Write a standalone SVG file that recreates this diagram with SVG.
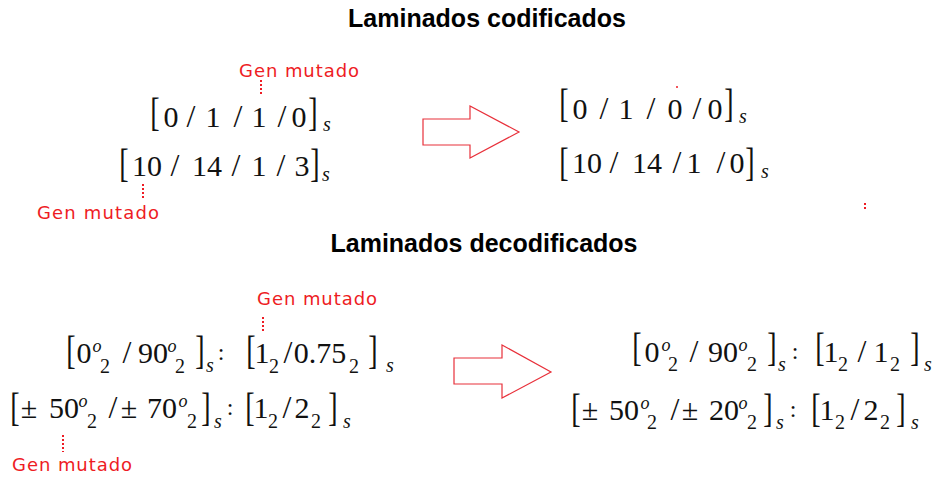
<svg xmlns="http://www.w3.org/2000/svg" width="940" height="477" viewBox="0 0 940 477">
<style>
text{font-family:"Liberation Serif","Times New Roman",serif;fill:#111;text-anchor:middle}
.m{font-size:30px}
.br{font-size:28px}
.sl{font-size:32px}
.s{font-size:20px;font-style:italic}
.o{font-size:18px;font-style:italic}
.u{font-size:20px}
.c{font-size:24px}
.t{font-family:"Liberation Sans",Arial,sans-serif;font-weight:bold;font-size:25px;fill:#000}
.g{font-family:"DejaVu Sans","Noto Sans",sans-serif;font-size:18px;fill:#ee1c24;text-anchor:start}
.d{stroke:#ee1c24;stroke-width:2;stroke-dasharray:2 2;fill:none}
.ar{fill:#fff;stroke:#e8303a;stroke-width:1.2}
</style>
<rect width="940" height="477" fill="#fff"/>
<g id="titles">
<text class="t" x="487" y="27">Laminados codificados</text>
<text class="t" x="484" y="252">Laminados decodificados</text>
</g>
<g id="coded-before">
<text class="br" transform="translate(155,126) scale(1,1.45)">[</text>
<text class="br" transform="translate(313,126) scale(1,1.45)">]</text>
<text class="m"><tspan x="171" y="127">0</tspan><tspan class="sl" x="191" y="127">/</tspan><tspan x="213" y="127">1</tspan><tspan class="sl" x="238" y="127">/</tspan><tspan x="259" y="127">1</tspan><tspan class="sl" x="282" y="127">/</tspan><tspan x="299" y="127">0</tspan><tspan class="s" x="327" y="131">s</tspan></text>
<text class="br" transform="translate(124,177) scale(1,1.45)">[</text>
<text class="br" transform="translate(315,177) scale(1,1.45)">]</text>
<text class="m"><tspan x="147" y="176">10</tspan><tspan class="sl" x="175" y="176">/</tspan><tspan x="207" y="176">14</tspan><tspan class="sl" x="236" y="176">/</tspan><tspan x="259" y="176">1</tspan><tspan class="sl" x="281" y="176">/</tspan><tspan x="302" y="176">3</tspan><tspan class="s" x="326" y="181">s</tspan></text>
</g>
<g id="coded-after">
<text class="br" transform="translate(564,117) scale(1,1.45)">[</text>
<text class="br" transform="translate(729,117) scale(1,1.45)">]</text>
<text class="m"><tspan x="580" y="119">0</tspan><tspan class="sl" x="604" y="119">/</tspan><tspan x="626" y="119">1</tspan><tspan class="sl" x="651" y="119">/</tspan><tspan x="675" y="119">0</tspan><tspan class="sl" x="697" y="119">/</tspan><tspan x="715" y="119">0</tspan><tspan class="s" x="743" y="123">s</tspan></text>
<circle cx="677" cy="87" r="1" fill="#ee1c24"/>
<text class="br" transform="translate(564,176) scale(1,1.45)">[</text>
<text class="br" transform="translate(750,176) scale(1,1.45)">]</text>
<text class="m"><tspan x="587" y="173">10</tspan><tspan class="sl" x="614" y="173">/</tspan><tspan x="647" y="173">14</tspan><tspan class="sl" x="677" y="173">/</tspan><tspan x="694" y="173">1</tspan><tspan class="sl" x="721" y="173">/</tspan><tspan x="737" y="173">0</tspan><tspan class="s" x="765" y="178">s</tspan></text>
<line class="d" x1="865" y1="203" x2="865" y2="211"/>
</g>
<g id="decoded-before">
<text class="br" transform="translate(71,364) scale(1,1.45)">[</text>
<text class="br" transform="translate(200,364) scale(1,1.45)">]</text>
<text class="br" transform="translate(251,364) scale(1,1.45)">[</text>
<text class="br" transform="translate(373,364) scale(1,1.45)">]</text>
<text class="m"><tspan x="84" y="363">0</tspan><tspan class="o" x="97" y="352">o</tspan><tspan class="u" x="105" y="373">2</tspan><tspan class="sl" x="127" y="363">/</tspan><tspan x="153" y="363">90</tspan><tspan class="o" x="172" y="352">o</tspan><tspan class="u" x="180" y="373">2</tspan><tspan class="s" x="210" y="372">s</tspan><tspan class="c" x="221" y="360">:</tspan><tspan x="262" y="363">1</tspan><tspan class="u" x="274" y="373">2</tspan><tspan class="sl" x="288" y="363">/</tspan><tspan x="320" y="363">0.75</tspan><tspan class="u" x="354" y="373">2</tspan><tspan class="s" x="390" y="372">s</tspan></text>
<text class="br" transform="translate(15,421) scale(1,1.45)">[</text>
<text class="br" transform="translate(206,421) scale(1,1.45)">]</text>
<text class="br" transform="translate(250,421) scale(1,1.45)">[</text>
<text class="br" transform="translate(333,421) scale(1,1.45)">]</text>
<text class="m"><tspan x="29" y="418">±</tspan><tspan x="64" y="418">50</tspan><tspan class="o" x="83" y="407">o</tspan><tspan class="u" x="92" y="428">2</tspan><tspan class="sl" x="113" y="418">/</tspan><tspan x="129" y="418">±</tspan><tspan x="162" y="418">70</tspan><tspan class="o" x="183" y="407">o</tspan><tspan class="u" x="192" y="428">2</tspan><tspan class="s" x="218" y="428">s</tspan><tspan class="c" x="230" y="415">:</tspan><tspan x="261" y="418">1</tspan><tspan class="u" x="273" y="428">2</tspan><tspan class="sl" x="287" y="418">/</tspan><tspan x="302" y="418">2</tspan><tspan class="u" x="316" y="428">2</tspan><tspan class="s" x="347" y="428">s</tspan></text>
</g>
<g id="decoded-after">
<text class="br" transform="translate(637,361) scale(1,1.45)">[</text>
<text class="br" transform="translate(772,361) scale(1,1.45)">]</text>
<text class="br" transform="translate(820,361) scale(1,1.45)">[</text>
<text class="br" transform="translate(915,361) scale(1,1.45)">]</text>
<text class="m"><tspan x="652" y="362">0</tspan><tspan class="o" x="666" y="351">o</tspan><tspan class="u" x="673" y="371">2</tspan><tspan class="sl" x="694" y="362">/</tspan><tspan x="723" y="362">90</tspan><tspan class="o" x="743" y="351">o</tspan><tspan class="u" x="752" y="371">2</tspan><tspan class="s" x="782" y="371">s</tspan><tspan class="c" x="795" y="359">:</tspan><tspan x="831" y="362">1</tspan><tspan class="u" x="843" y="371">2</tspan><tspan class="sl" x="862" y="362">/</tspan><tspan x="881" y="362">1</tspan><tspan class="u" x="895" y="371">2</tspan><tspan class="s" x="928" y="371">s</tspan></text>
<text class="br" transform="translate(576,422) scale(1,1.45)">[</text>
<text class="br" transform="translate(768,422) scale(1,1.45)">]</text>
<text class="br" transform="translate(816,422) scale(1,1.45)">[</text>
<text class="br" transform="translate(901,422) scale(1,1.45)">]</text>
<text class="m"><tspan x="590" y="420">±</tspan><tspan x="624" y="420">50</tspan><tspan class="o" x="645" y="409">o</tspan><tspan class="u" x="652" y="429">2</tspan><tspan class="sl" x="675" y="420">/</tspan><tspan x="690" y="420">±</tspan><tspan x="724" y="420">20</tspan><tspan class="o" x="743" y="409">o</tspan><tspan class="u" x="752" y="429">2</tspan><tspan class="s" x="780" y="429">s</tspan><tspan class="c" x="793" y="417">:</tspan><tspan x="827" y="420">1</tspan><tspan class="u" x="840" y="429">2</tspan><tspan class="sl" x="855" y="420">/</tspan><tspan x="871" y="420">2</tspan><tspan class="u" x="885" y="429">2</tspan><tspan class="s" x="915" y="429">s</tspan></text>
</g>
<g id="labels">
<text class="g" x="239" y="77" textLength="120">Gen mutado</text>
<line class="d" x1="261" y1="80" x2="261" y2="94"/>
<text class="g" x="37" y="219" textLength="122">Gen mutado</text>
<line class="d" x1="143" y1="184" x2="143" y2="198"/>
<text class="g" x="257" y="305" textLength="120">Gen mutado</text>
<line class="d" x1="263" y1="317" x2="263" y2="332"/>
<text class="g" x="12" y="471" textLength="120">Gen mutado</text>
<line class="d" x1="63" y1="435" x2="63" y2="452"/>
</g>
<g id="connectors">
<polygon class="ar" points="423,119 470,119 470,106 519,132 470,158 470,145 423,145"/>
<polygon class="ar" points="454,358 502,358 502,345 551,372 502,398 502,384 454,384"/>
</g>
</svg>
